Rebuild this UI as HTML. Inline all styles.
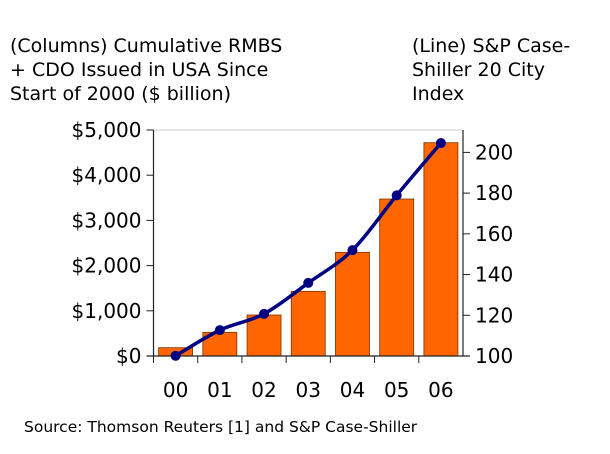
<!DOCTYPE html>
<html><head><meta charset="utf-8"><style>
body{margin:0;background:#fff;}
svg text{font-family:"DejaVu Sans","Liberation Sans",sans-serif;fill:#000;}
</style></head><body>
<svg width="610" height="449" viewBox="0 0 610 449">
<g font-size="19">
<text x="10" y="52">(Columns) Cumulative RMBS</text>
<text x="10" y="76">+ CDO Issued in USA Since</text>
<text x="10" y="100">Start of 2000 ($ billion)</text>
</g>
<g font-size="19">
<text x="412" y="52">(Line) S&amp;P Case-</text>
<text x="412" y="76">Shiller 20 City</text>
<text x="412" y="100">Index</text>
</g>
<g id="plot"></g>
<text x="24" y="432" font-size="15.5">Source: Thomson Reuters [1] and S&amp;P Case-Shiller</text>
</svg>
<script>
const categories=["00","01","02","03","04","05","06"];
const cdoValues=[184,524,907,1431,2294,3473,4719];
const indexValues=[100.1,112.7,120.7,135.9,152,178.9,204.6];
const leftTicks=[0,1000,2000,3000,4000,5000];
const leftTickLabels=["$0","$1,000","$2,000","$3,000","$4,000","$5,000"];
const rightTicks=[100,120,140,160,180,200];

const NS="http://www.w3.org/2000/svg";
const g=document.getElementById('plot');
const X0=153.5,X1=463,Y0=356,Ytop=130;
const bw=(X1-X0)/categories.length;
const yL=v=>Y0-v/5000*(Y0-Ytop);
const yR=v=>Y0-(v-100)/111*(Y0-Ytop);
const xc=i=>X0+bw*(i+0.5);
function mk(t,a){const e=document.createElementNS(NS,t);for(const k in a)e.setAttribute(k,a[k]);g.appendChild(e);return e;}
let e=mk('line',{x1:X0,y1:Ytop,x2:X1,y2:Ytop,stroke:'#ccc','stroke-width':1});


categories.forEach((c,i)=>{
 const y=yL(cdoValues[i]);
 const r=mk('rect',{x:xc(i)-17,y:y,width:34,height:Y0-y,fill:'#ff6600',stroke:'#7a3300','stroke-width':0.8});
 
 
 const t=mk('text',{x:xc(i),y:397,'text-anchor':'middle','font-size':20});
 t.textContent=c;
 
 
 const tk=mk('line',{x1:X0+bw*i,y1:Y0,x2:X0+bw*i,y2:Y0+7,stroke:'#222'});
 
 
});
e=mk('line',{x1:X0,y1:Ytop,x2:X0,y2:Y0,stroke:'#222','stroke-width':1.2});


e=mk('line',{x1:X1,y1:Ytop,x2:X1,y2:Y0,stroke:'#222','stroke-width':1.2});


e=mk('line',{x1:X0-7,y1:Y0,x2:X1+7,y2:Y0,stroke:'#222','stroke-width':1.2});


leftTicks.forEach((v,i)=>{
 const tk=mk('line',{x1:X0-7,y1:yL(v),x2:X0,y2:yL(v),stroke:'#222'});
 
 
 const t=mk('text',{x:X0-12,y:yL(v)+7,'text-anchor':'end','font-size':20});
 t.textContent=leftTickLabels[i];
 
 
});
rightTicks.forEach(v=>{
 const tk=mk('line',{x1:X1,y1:yR(v),x2:X1+7,y2:yR(v),stroke:'#222'});
 
 
 const t=mk('text',{x:X1+12,y:yR(v)+7,'font-size':20});
 t.textContent=v;
 
 
});
const pts=indexValues.map((v,i)=>[xc(i),yR(v)]);
let d='M'+pts[0].join(',');
for(let i=0;i<pts.length-1;i++){
 const p0=pts[i-1]||pts[i],p1=pts[i],p2=pts[i+1],p3=pts[i+2]||p2;
 const c1=[p1[0]+(p2[0]-p0[0])/6,p1[1]+(p2[1]-p0[1])/6],c2=[p2[0]-(p3[0]-p1[0])/6,p2[1]-(p3[1]-p1[1])/6];
 d+=' C'+c1.join(',')+' '+c2.join(',')+' '+p2.join(',');
}
e=mk('path',{d:d,fill:'none',stroke:'#000080','stroke-width':3.5});


pts.forEach((p,i)=>{
 const c=mk('circle',{cx:p[0],cy:p[1],r:5,fill:'#000080'});
 
 
});
</script>
</body></html>
